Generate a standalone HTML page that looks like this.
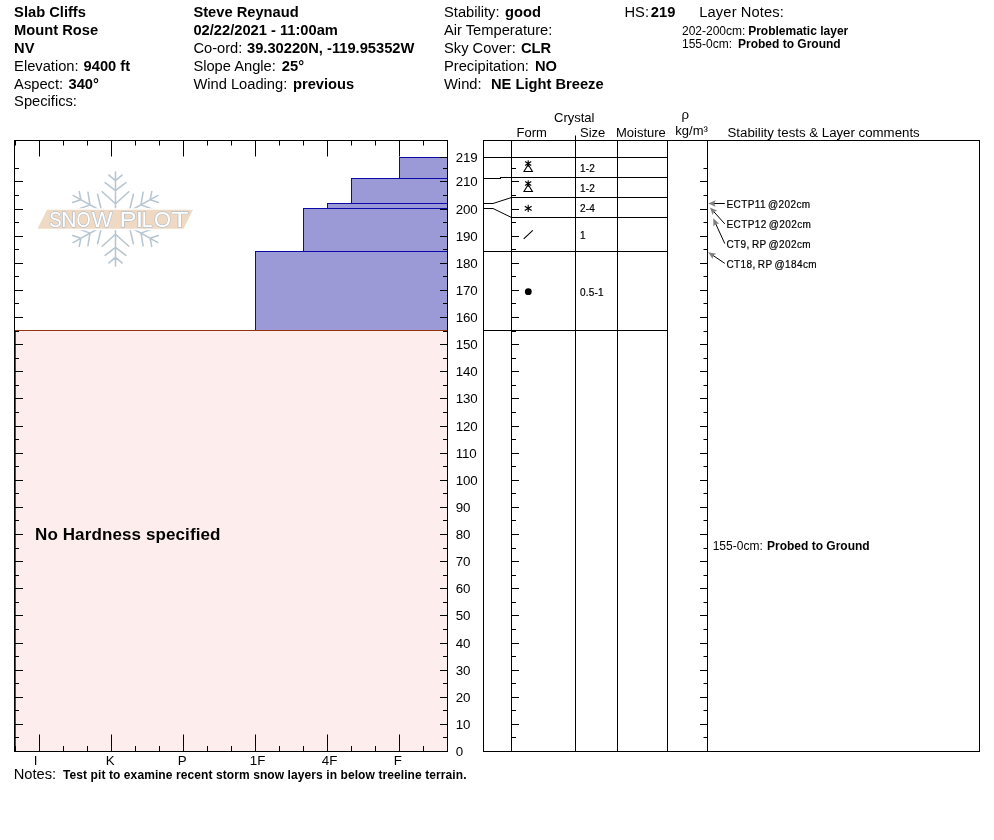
<!DOCTYPE html>
<html lang="en"><head><meta charset="utf-8"><title>Snow Pilot - Slab Cliffs</title>
<style>
html,body{margin:0;padding:0;background:#fff;}
body{width:994px;height:840px;overflow:hidden;position:relative;}
svg{position:absolute;left:0;top:0;display:block;}
text{font-family:"Liberation Sans",Arial,Helvetica,sans-serif;fill:#000;}
.b{font-weight:bold;}
.h{font-size:14.7px;}
.n{font-size:12px;}
.th{font-size:13.25px;}
.th2{font-size:13px;}
.ax{font-size:13.33px;}
.sm{font-size:10px;letter-spacing:0.2px;stroke:#000;stroke-width:0.2px;}
.k{stroke:#000;stroke-width:1;fill:none;}
</style></head><body>
<svg width="994" height="840" viewBox="0 0 994 840">
<g id="header">
<text x="14.1" y="16.7" class="h b">Slab Cliffs</text>
<text x="14.1" y="34.6" class="h b">Mount Rose</text>
<text x="14.1" y="52.6" class="h b">NV</text>
<text x="14.1" y="70.7" class="h">Elevation:</text>
<text x="83.6" y="70.7" class="h b">9400 ft</text>
<text x="14.1" y="88.6" class="h">Aspect:</text>
<text x="68.5" y="88.6" class="h b">340°</text>
<text x="14.1" y="106.4" class="h">Specifics:</text>
<text x="193.4" y="16.7" class="h b">Steve Reynaud</text>
<text x="193.4" y="34.6" class="h b">02/22/2021 - 11:00am</text>
<text x="193.4" y="52.6" class="h">Co-ord:</text>
<text x="247" y="52.6" class="h b">39.30220N, -119.95352W</text>
<text x="193.4" y="70.7" class="h">Slope Angle:</text>
<text x="281.8" y="70.7" class="h b">25°</text>
<text x="193.4" y="88.6" class="h">Wind Loading:</text>
<text x="293" y="88.6" class="h b">previous</text>
<text x="444" y="16.7" class="h">Stability:</text>
<text x="505" y="16.7" class="h b">good</text>
<text x="444" y="34.6" class="h">Air Temperature:</text>
<text x="444" y="52.6" class="h">Sky Cover:</text>
<text x="521" y="52.6" class="h b">CLR</text>
<text x="444" y="70.7" class="h">Precipitation:</text>
<text x="535" y="70.7" class="h b">NO</text>
<text x="444" y="88.6" class="h">Wind:</text>
<text x="491" y="88.6" class="h b">NE Light Breeze</text>
<text x="624.5" y="16.7" class="h">HS:</text>
<text x="650.8" y="16.7" class="h b">219</text>
<text x="699.3" y="16.7" class="h" style="letter-spacing:0.12px">Layer Notes:</text>
<text x="682" y="34.5" class="n">202-200cm:</text>
<text x="748.2" y="34.5" class="n b">Problematic layer</text>
<text x="682" y="47.5" class="n">155-0cm:</text>
<text x="738" y="47.5" class="n b">Probed to Ground</text>
</g>
<g id="chart">
<rect x="399.5" y="157.5" width="48" height="21" fill="#9b9ad6" stroke="#0a0aa8" stroke-width="1"/>
<rect x="351.5" y="178.5" width="96" height="25" fill="#9b9ad6" stroke="#0a0aa8" stroke-width="1"/>
<rect x="327.5" y="203.5" width="120" height="5" fill="#9b9ad6" stroke="#0a0aa8" stroke-width="1"/>
<rect x="303.5" y="208.5" width="144" height="43" fill="#9b9ad6" stroke="#0a0aa8" stroke-width="1"/>
<rect x="255.5" y="251.5" width="192" height="79" fill="#9b9ad6" stroke="#0a0aa8" stroke-width="1"/>
<rect x="15.5" y="330.5" width="432" height="421" fill="#fdeded" stroke="#96340e" stroke-width="1"/>
<g id="logo" transform="translate(115.5 219)">
<g transform="scale(1.04 1)" stroke="#b7c6d0" stroke-width="1.5" stroke-linecap="round" fill="none">
<path transform="rotate(0)" d="M0 -9V-47.1 M0 -38.4L-6.3 -43.9 M0 -38.4L6.3 -43.9 M0 -28.3L-10 -36.4 M0 -28.3L10 -36.4 M0 -15.3L-12.8 -27.3 M0 -15.3L12.8 -27.3"/>
<path transform="rotate(60)" d="M0 -9V-47.1 M0 -38.4L-6.3 -43.9 M0 -38.4L6.3 -43.9 M0 -28.3L-10 -36.4 M0 -28.3L10 -36.4 M0 -15.3L-12.8 -27.3 M0 -15.3L12.8 -27.3"/>
<path transform="rotate(120)" d="M0 -9V-47.1 M0 -38.4L-6.3 -43.9 M0 -38.4L6.3 -43.9 M0 -28.3L-10 -36.4 M0 -28.3L10 -36.4 M0 -15.3L-12.8 -27.3 M0 -15.3L12.8 -27.3"/>
<path transform="rotate(180)" d="M0 -9V-47.1 M0 -38.4L-6.3 -43.9 M0 -38.4L6.3 -43.9 M0 -28.3L-10 -36.4 M0 -28.3L10 -36.4 M0 -15.3L-12.8 -27.3 M0 -15.3L12.8 -27.3"/>
<path transform="rotate(240)" d="M0 -9V-47.1 M0 -38.4L-6.3 -43.9 M0 -38.4L6.3 -43.9 M0 -28.3L-10 -36.4 M0 -28.3L10 -36.4 M0 -15.3L-12.8 -27.3 M0 -15.3L12.8 -27.3"/>
<path transform="rotate(300)" d="M0 -9V-47.1 M0 -38.4L-6.3 -43.9 M0 -38.4L6.3 -43.9 M0 -28.3L-10 -36.4 M0 -28.3L10 -36.4 M0 -15.3L-12.8 -27.3 M0 -15.3L12.8 -27.3"/>
</g>
<path d="M-68.5 -9.3H77.5L68 9.8H-78Z" fill="#f0d9c3" stroke="#fff" stroke-width="3" paint-order="stroke"/>
<g font-size="22.4" fill="#fff" stroke="#b4c0cc" stroke-width="1.3" paint-order="stroke">
<text y="8.15" style="fill:#fff"><tspan x="-66.29" textLength="12.4" lengthAdjust="spacingAndGlyphs">S</tspan><tspan x="-54.18" textLength="15.26" lengthAdjust="spacingAndGlyphs">N</tspan><tspan x="-38.91" textLength="14.13" lengthAdjust="spacingAndGlyphs">O</tspan><tspan x="-23.65" textLength="20.67" lengthAdjust="spacingAndGlyphs">W</tspan></text>
<text y="8.15" style="fill:#fff"><tspan x="4.04" textLength="17.17" lengthAdjust="spacingAndGlyphs">P</tspan><tspan x="20.38" textLength="7.45" lengthAdjust="spacingAndGlyphs">I</tspan><tspan x="26.37" textLength="10.72" lengthAdjust="spacingAndGlyphs">L</tspan><tspan x="38.41" textLength="17.09" lengthAdjust="spacingAndGlyphs">O</tspan><tspan x="55.51" textLength="17.5" lengthAdjust="spacingAndGlyphs">T</tspan></text>
</g>
</g>
<rect x="14.5" y="140.5" width="433" height="611" class="k"/>
<path class="k" d="M15.5 140.5V145.5 M15.5 751.5V746 M39.5 140.5V156.5 M39.5 751.5V734.5 M63.5 140.5V145.5 M63.5 751.5V746 M87.5 140.5V145.5 M87.5 751.5V746 M111.5 140.5V156.5 M111.5 751.5V734.5 M135.5 140.5V145.5 M135.5 751.5V746 M159.5 140.5V145.5 M159.5 751.5V746 M183.5 140.5V156.5 M183.5 751.5V734.5 M207.5 140.5V145.5 M207.5 751.5V746 M231.5 140.5V145.5 M231.5 751.5V746 M255.5 140.5V156.5 M255.5 751.5V734.5 M279.5 140.5V145.5 M279.5 751.5V746 M303.5 140.5V145.5 M303.5 751.5V746 M327.5 140.5V156.5 M327.5 751.5V734.5 M351.5 140.5V145.5 M351.5 751.5V746 M375.5 140.5V145.5 M375.5 751.5V746 M399.5 140.5V156.5 M399.5 751.5V734.5 M423.5 140.5V145.5 M423.5 751.5V746 M14.5 737.5H19 M447.5 737.5H443 M14.5 724.5H23 M447.5 724.5H440 M14.5 710.5H19 M447.5 710.5H443 M14.5 697.5H23 M447.5 697.5H440 M14.5 683.5H19 M447.5 683.5H443 M14.5 670.5H23 M447.5 670.5H440 M14.5 656.5H19 M447.5 656.5H443 M14.5 643.5H23 M447.5 643.5H440 M14.5 629.5H19 M447.5 629.5H443 M14.5 615.5H23 M447.5 615.5H440 M14.5 602.5H19 M447.5 602.5H443 M14.5 588.5H23 M447.5 588.5H440 M14.5 575.5H19 M447.5 575.5H443 M14.5 561.5H23 M447.5 561.5H440 M14.5 548.5H19 M447.5 548.5H443 M14.5 534.5H23 M447.5 534.5H440 M14.5 520.5H19 M447.5 520.5H443 M14.5 507.5H23 M447.5 507.5H440 M14.5 493.5H19 M447.5 493.5H443 M14.5 480.5H23 M447.5 480.5H440 M14.5 466.5H19 M447.5 466.5H443 M14.5 453.5H23 M447.5 453.5H440 M14.5 439.5H19 M447.5 439.5H443 M14.5 426.5H23 M447.5 426.5H440 M14.5 412.5H19 M447.5 412.5H443 M14.5 398.5H23 M447.5 398.5H440 M14.5 385.5H19 M447.5 385.5H443 M14.5 371.5H23 M447.5 371.5H440 M14.5 358.5H19 M447.5 358.5H443 M14.5 344.5H23 M447.5 344.5H440 M14.5 331.5H19 M447.5 331.5H443 M14.5 317.5H23 M447.5 317.5H440 M14.5 303.5H19 M447.5 303.5H443 M14.5 290.5H23 M447.5 290.5H440 M14.5 276.5H19 M447.5 276.5H443 M14.5 263.5H23 M447.5 263.5H440 M14.5 249.5H19 M447.5 249.5H443 M14.5 236.5H23 M447.5 236.5H440 M14.5 222.5H19 M447.5 222.5H443 M14.5 209.5H23 M447.5 209.5H440 M14.5 195.5H19 M447.5 195.5H443 M14.5 181.5H23 M447.5 181.5H440 M14.5 168.5H19 M447.5 168.5H443 M447.5 157.5H440"/>
<text x="33.8" y="764.5" class="ax">I</text>
<text x="105.8" y="764.5" class="ax">K</text>
<text x="177.8" y="764.5" class="ax">P</text>
<text x="249.8" y="764.5" class="ax">1F</text>
<text x="321.8" y="764.5" class="ax">4F</text>
<text x="393.8" y="764.5" class="ax">F</text>
<text x="35" y="539.5" class="b" style="font-size:17px;letter-spacing:0.11px">No Hardness specified</text>
</g>
<g id="depth" class="ax" style="letter-spacing:-0.15px">
<text x="455.8" y="162">219</text>
<text x="455.8" y="186">210</text>
<text x="455.8" y="214">200</text>
<text x="455.8" y="241">190</text>
<text x="455.8" y="268">180</text>
<text x="455.8" y="295">170</text>
<text x="455.8" y="322">160</text>
<text x="455.8" y="349">150</text>
<text x="455.8" y="376">140</text>
<text x="455.8" y="403">130</text>
<text x="455.8" y="431">120</text>
<text x="455.8" y="458">110</text>
<text x="455.8" y="485">100</text>
<text x="455.8" y="512">90</text>
<text x="455.8" y="539">80</text>
<text x="455.8" y="566">70</text>
<text x="455.8" y="593">60</text>
<text x="455.8" y="620">50</text>
<text x="455.8" y="648">40</text>
<text x="455.8" y="675">30</text>
<text x="455.8" y="702">20</text>
<text x="455.8" y="729">10</text>
<text x="455.8" y="756">0</text>
</g>
<text x="13.7" y="778.5" class="h">Notes:</text>
<text x="63" y="778.9" class="n b" style="letter-spacing:0.09px">Test pit to examine recent storm snow layers in below treeline terrain.</text>
<g id="table">
<rect x="483.5" y="140.5" width="496" height="611" class="k"/>
<path class="k" d="M511.5 140.5V751.5 M575.5 135.5V751.5 M617.5 140.5V751.5 M667.5 140.5V751.5 M707.5 140.5V751.5 M511.5 157.5H667.5 M511.5 177.5H667.5 M511.5 197.5H667.5 M511.5 217.5H667.5 M511.5 251.5H667.5 M511.5 330.5H667.5 M483.5 157.5H511.5 M483.5 178.5H501 M500 177.5H511.5 M483.5 203.5H493L511.5 197.5 M483.5 208.5H493L511.5 217.5 M483.5 251.5H511.5 M483.5 330.5H511.5 M511.5 737.5H516 M707.5 737.5H703.5 M511.5 724.5H519 M707.5 724.5H700 M511.5 710.5H516 M707.5 710.5H703.5 M511.5 697.5H519 M707.5 697.5H700 M511.5 683.5H516 M707.5 683.5H703.5 M511.5 670.5H519 M707.5 670.5H700 M511.5 656.5H516 M707.5 656.5H703.5 M511.5 643.5H519 M707.5 643.5H700 M511.5 629.5H516 M707.5 629.5H703.5 M511.5 615.5H519 M707.5 615.5H700 M511.5 602.5H516 M707.5 602.5H703.5 M511.5 588.5H519 M707.5 588.5H700 M511.5 575.5H516 M707.5 575.5H703.5 M511.5 561.5H519 M707.5 561.5H700 M511.5 548.5H516 M707.5 548.5H703.5 M511.5 534.5H519 M707.5 534.5H700 M511.5 520.5H516 M707.5 520.5H703.5 M511.5 507.5H519 M707.5 507.5H700 M511.5 493.5H516 M707.5 493.5H703.5 M511.5 480.5H519 M707.5 480.5H700 M511.5 466.5H516 M707.5 466.5H703.5 M511.5 453.5H519 M707.5 453.5H700 M511.5 439.5H516 M707.5 439.5H703.5 M511.5 426.5H519 M707.5 426.5H700 M511.5 412.5H516 M707.5 412.5H703.5 M511.5 398.5H519 M707.5 398.5H700 M511.5 385.5H516 M707.5 385.5H703.5 M511.5 371.5H519 M707.5 371.5H700 M511.5 358.5H516 M707.5 358.5H703.5 M511.5 344.5H519 M707.5 344.5H700 M511.5 331.5H516 M707.5 331.5H703.5 M511.5 317.5H519 M707.5 317.5H700 M511.5 303.5H516 M707.5 303.5H703.5 M511.5 290.5H519 M707.5 290.5H700 M511.5 276.5H516 M707.5 276.5H703.5 M511.5 263.5H519 M707.5 263.5H700 M511.5 249.5H516 M707.5 249.5H703.5 M511.5 236.5H519 M707.5 236.5H700 M511.5 222.5H516 M707.5 222.5H703.5 M511.5 209.5H519 M707.5 209.5H700 M511.5 195.5H516 M707.5 195.5H703.5 M511.5 181.5H519 M707.5 181.5H700 M511.5 168.5H516 M707.5 168.5H703.5"/>
<text x="554" y="121.5" class="th2">Crystal</text>
<text x="516.6" y="137" class="th2">Form</text>
<text x="580" y="137" class="th2">Size</text>
<text x="616" y="137" class="th2">Moisture</text>
<text x="681.5" y="119" class="th">ρ</text>
<text x="675.3" y="134.6" class="th2">kg/m³</text>
<text x="727.5" y="136.5" class="th">Stability tests &amp; Layer comments</text>
<path d="M528.2 160.3V166.7 M525.16 161.58L531.24 165.42 M525.16 165.42L531.24 161.58 M524 171.5H532.4L528.2 164.5Z M528.2 180.3V186.7 M525.16 181.58L531.24 185.42 M525.16 185.42L531.24 181.58 M524 191.5H532.4L528.2 184.5Z M528.2 204.8V212 M524.78 206.24L531.62 210.56 M524.78 210.56L531.62 206.24 M523.7 238.8L532.8 230.3" stroke="#000" stroke-width="1.1" fill="none"/>
<circle cx="528.3" cy="291.7" r="3.4" fill="#000"/>
<text x="580" y="171.7" class="sm">1-2</text>
<text x="580" y="191.7" class="sm">1-2</text>
<text x="580" y="211.7" class="sm">2-4</text>
<text x="580" y="238.7" class="sm">1</text>
<text x="580" y="295.7" class="sm">0.5-1</text>
<path d="M724.8 203.5L713.2 203.5" stroke="#000" stroke-width="1" fill="none"/>
<path d="M708.2 203.5 L715.7 206.7 L714.2 203.5 L715.7 200.3 Z" fill="#808080"/>
<path d="M724.8 223.9L713.34 211.12" stroke="#000" stroke-width="1" fill="none"/>
<path d="M710 207.4 L712.63 215.12 L714.01 211.87 L717.39 210.85 Z" fill="#808080"/>
<path d="M724.8 243.6L715.28 222.85" stroke="#000" stroke-width="1" fill="none"/>
<path d="M713.2 218.3 L713.42 226.45 L715.7 223.75 L719.23 223.78 Z" fill="#808080"/>
<path d="M724.8 263.4L712.34 255" stroke="#000" stroke-width="1" fill="none"/>
<path d="M708.2 252.2 L712.63 259.05 L713.17 255.56 L716.21 253.74 Z" fill="#808080"/>
<text x="726.5" y="207.7" class="sm" style="letter-spacing:0.39px;word-spacing:-1px">ECTP11 @202cm</text>
<text x="726.5" y="227.6" class="sm" style="letter-spacing:0.39px;word-spacing:-1px">ECTP12 @202cm</text>
<text x="726.5" y="247.5" class="sm" style="letter-spacing:0.39px;word-spacing:-1px">CT9, RP @202cm</text>
<text x="726.5" y="267.5" class="sm" style="letter-spacing:0.39px;word-spacing:-1px">CT18, RP @184cm</text>
<text x="712.7" y="549.7" class="n">155-0cm:</text>
<text x="767" y="549.7" class="n b">Probed to Ground</text>
</g>
</svg>
</body></html>
